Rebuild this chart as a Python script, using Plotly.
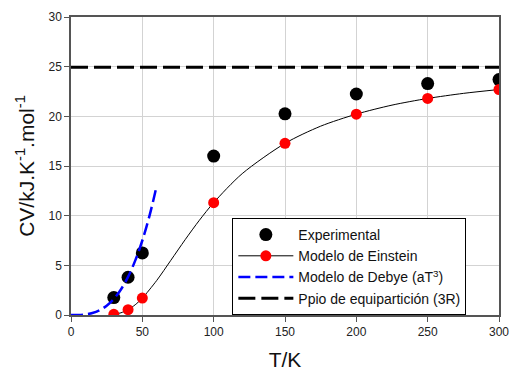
import plotly.graph_objects as go

# Experimental data
T_exp = [30, 40, 50, 100, 150, 200, 250, 300]
cv_exp = [1.75, 3.8, 6.25, 16.0, 20.25, 22.25, 23.3, 23.7]

# Einstein model points
T_ein = [30, 40, 50, 100, 150, 200, 250, 300]
cv_ein = [0.07, 0.54, 1.70, 11.31, 17.28, 20.22, 21.80, 22.70]

# Einstein model curve
T_ein_curve = [30, 35, 40, 45, 50, 60, 70, 80, 90, 100, 120, 150, 175, 200, 225, 250, 275, 300]
cv_ein_curve = [0.07, 0.22, 0.54, 1.03, 1.70, 3.46, 5.51, 7.58, 9.54, 11.31, 14.23, 17.28,
                19.01, 20.22, 21.13, 21.80, 22.31, 22.70]

# Debye model curve
T_deb = [0, 5, 10, 15, 20, 25, 30, 35, 40, 45, 50, 55, 60]
cv_deb = [0.0, 0.0075, 0.06, 0.2, 0.48, 0.94, 1.62, 2.57, 3.84, 5.47, 7.5, 9.98, 12.96]

# Equipartition (3R)
T_eq = [0, 300]
cv_eq = [24.94, 24.94]

x_ticks = [0, 50, 100, 150, 200, 250, 300]
y_ticks = [0, 5, 10, 15, 20, 25, 30]

FONT = "Arial, Liberation Sans, sans-serif"

fig = go.Figure()
fig.add_trace(go.Scatter(x=T_exp, y=cv_exp, mode="markers", name="Experimental",
                         marker=dict(color="black", size=13, line=dict(width=0))))
fig.add_trace(go.Scatter(x=T_ein_curve, y=cv_ein_curve, mode="lines", name="Modelo de Einstein",
                         line=dict(color="black", width=1, shape="spline", smoothing=0.8),
                         legendgroup="ein", showlegend=False, hoverinfo="skip"))
fig.add_trace(go.Scatter(x=T_ein, y=cv_ein, mode="markers", name="Modelo de Einstein",
                         legendgroup="ein", showlegend=False,
                         marker=dict(color="#ff0000", size=11, line=dict(width=0))))
# legend entry for Einstein (line + marker)
fig.add_trace(go.Scatter(x=[None], y=[None], mode="markers+lines", name="Modelo de Einstein",
                         legendgroup="ein",
                         line=dict(color="black", width=1),
                         marker=dict(color="#ff0000", size=11, line=dict(width=0))))
fig.add_trace(go.Scatter(x=T_deb, y=cv_deb, mode="lines", name="Modelo de Debye (aT<sup>3</sup>)",
                         line=dict(color="#0000ff", width=2.5, dash="12px,5px", shape="spline")))
fig.add_trace(go.Scatter(x=T_eq, y=cv_eq, mode="lines", name="Ppio de equipartición (3R)",
                         line=dict(color="black", width=3, dash="17px,6px")))

axis_common = dict(
    showline=True, linecolor="#555555", linewidth=1.5, mirror=True,
    showgrid=True, gridcolor="#d3d3d3", gridwidth=1,
    ticks="outside", ticklen=5, tickcolor="#555555", tickwidth=1,
    zeroline=False, tickfont=dict(family=FONT, size=12, color="#222222"),
)

fig.update_xaxes(range=[0, 300], tickvals=x_ticks, ticktext=[str(v) for v in x_ticks],
                 title=dict(text="T/K", font=dict(family=FONT, size=21, color="#111111"), standoff=14),
                 **axis_common)
fig.update_yaxes(range=[0, 30], tickvals=y_ticks, ticktext=[str(v) for v in y_ticks],
                 title=dict(text="CV/kJ.K<sup>-1</sup>.mol<sup>-1</sup>",
                            font=dict(family=FONT, size=21, color="#111111"), standoff=8),
                 **axis_common)

fig.update_layout(
    width=519, height=378,
    margin=dict(l=71, r=10, t=17, b=54),
    paper_bgcolor="white", plot_bgcolor="white",
    font=dict(family=FONT),
    legend=dict(x=0.377, y=0, xanchor="left", yanchor="bottom",
                bgcolor="white", bordercolor="black", borderwidth=1,
                font=dict(family=FONT, size=14, color="#111111"),
                itemwidth=55, tracegroupgap=0),
    showlegend=True,
)

fig.write_html("out.html")
